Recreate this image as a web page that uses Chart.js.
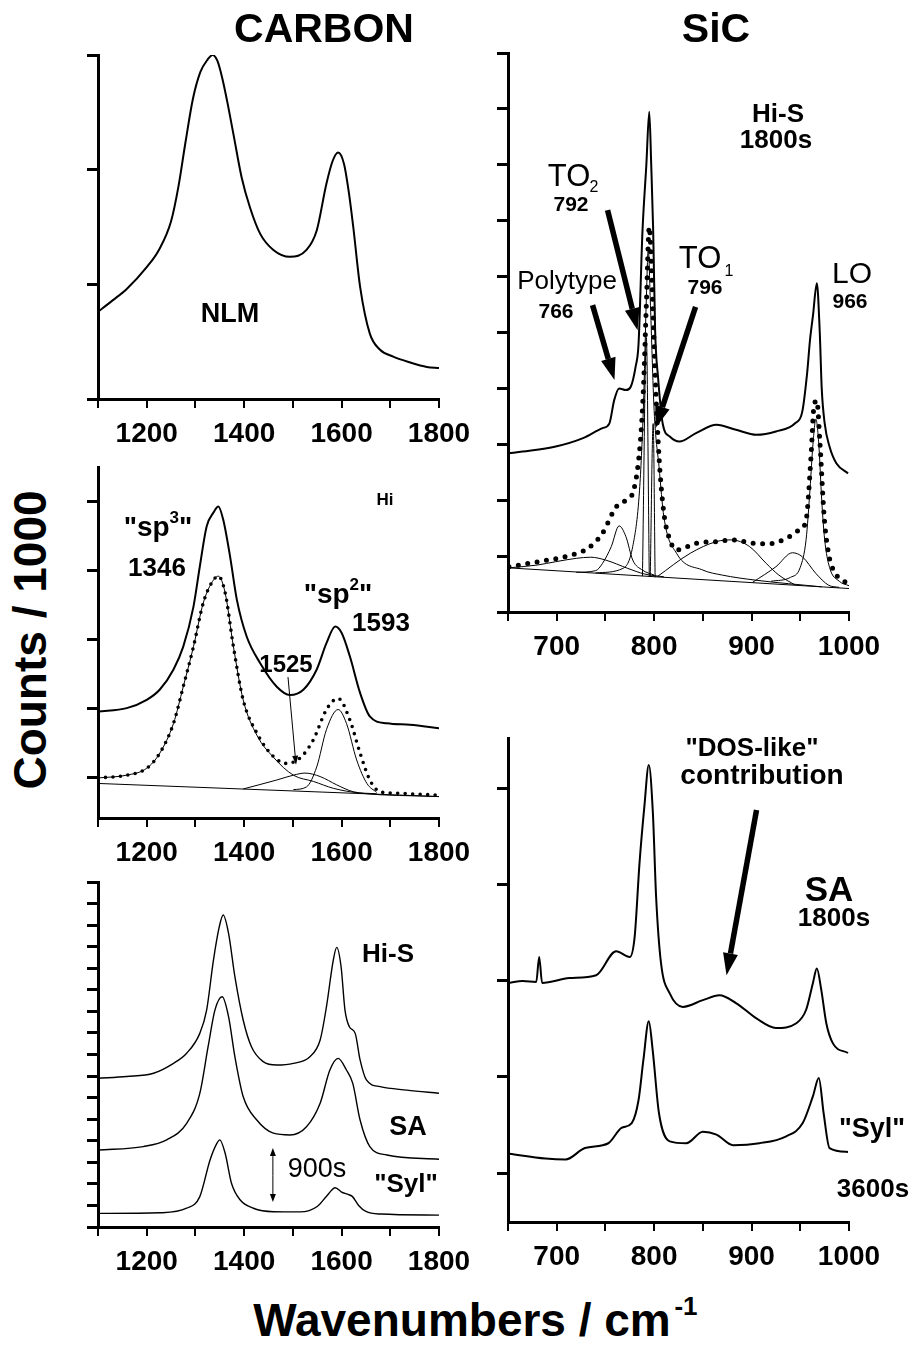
<!DOCTYPE html>
<html><head><meta charset="utf-8">
<script src="https://cdn.jsdelivr.net/npm/chart.js@4.4.1/dist/chart.umd.min.js"></script>
<style>
body{margin:0;background:#fff;width:916px;height:1347px;position:relative;overflow:hidden;font-family:"Liberation Sans",Arial,sans-serif;color:#000}
canvas{position:absolute}
.t{position:absolute;transform:translate(-50%,-50%);white-space:nowrap;line-height:1;font-weight:bold}
.n{font-weight:normal}
</style></head><body>
<canvas id="p1"></canvas><canvas id="p2"></canvas><canvas id="p3"></canvas><canvas id="p4"></canvas><canvas id="p5"></canvas>

<div class="t" style="left:324px;top:28px;font-size:41px">CARBON</div>
<div class="t" style="left:716px;top:28px;font-size:41px">SiC</div>
<div class="t" style="left:30px;top:640px;font-size:46px;transform:translate(-50%,-50%) rotate(-90deg)">Counts / 1000</div>
<div class="t" style="left:462px;top:1320px;font-size:46px">Wavenumbers / cm</div>
<div class="t" style="left:686px;top:1306px;font-size:26px">-1</div>

<div class="t" style="left:230px;top:313px;font-size:27px">NLM</div>

<div class="t" style="left:385px;top:499px;font-size:17px">Hi</div>
<div class="t" style="left:158px;top:527px;font-size:28px">"sp<span style="font-size:17px;position:relative;top:-13px">3</span>"</div>
<div class="t" style="left:157px;top:567px;font-size:26px">1346</div>
<div class="t" style="left:338px;top:594px;font-size:28px">"sp<span style="font-size:17px;position:relative;top:-13px">2</span>"</div>
<div class="t" style="left:381px;top:622px;font-size:26px">1593</div>
<div class="t" style="left:286px;top:664px;font-size:24px">1525</div>

<div class="t" style="left:388px;top:953px;font-size:26px">Hi-S</div>
<div class="t" style="left:408px;top:1126px;font-size:27px">SA</div>
<div class="t n" style="left:317px;top:1168px;font-size:27px">900s</div>
<div class="t" style="left:406px;top:1183px;font-size:26px">"Syl"</div>

<div class="t" style="left:778px;top:113px;font-size:26px">Hi-S</div>
<div class="t" style="left:776px;top:139px;font-size:26px">1800s</div>
<div class="t n" style="left:569px;top:175px;font-size:31px">TO</div>
<div class="t n" style="left:594px;top:187px;font-size:16px">2</div>
<div class="t" style="left:571px;top:203px;font-size:21px">792</div>
<div class="t n" style="left:567px;top:280px;font-size:26px">Polytype</div>
<div class="t" style="left:556px;top:310px;font-size:21px">766</div>
<div class="t n" style="left:700px;top:257px;font-size:31px">TO</div>
<div class="t n" style="left:729px;top:271px;font-size:16px">1</div>
<div class="t" style="left:705px;top:286px;font-size:21px">796</div>
<div class="t n" style="left:852px;top:273px;font-size:30px">LO</div>
<div class="t" style="left:850px;top:300px;font-size:21px">966</div>

<div class="t" style="left:752px;top:747px;font-size:26px">"DOS-like"</div>
<div class="t" style="left:762px;top:775px;font-size:28px">contribution</div>
<div class="t" style="left:829px;top:888px;font-size:35px">SA</div>
<div class="t" style="left:834px;top:917px;font-size:26px">1800s</div>
<div class="t" style="left:872px;top:1128px;font-size:27px">"Syl"</div>
<div class="t" style="left:873px;top:1188px;font-size:26px">3600s</div>

<script>
// ---------- axes ----------
const carbonXTicks = [1100,1200,1300,1400,1500,1600,1700,1800];
const carbonXLabels = [1200,1400,1600,1800];
const sicXTicks = [650,700,750,800,850,900,950,1000];
const sicXLabels = [700,800,900,1000];
const nlmYTicks = [0,1,2,3];
const hiYTicks = [0,1,2,3,4];
const carbon3YTicks = [0,1,2,3,4,5,6,7,8,9,10,11,12,13,14,15,16];
const sicHiYTicks = [0,1,2,3,4,5,6,7,8,9,10];
const sicSaYTicks = [0,1,2,3,4];

// ---------- CARBON: NLM ----------
const nlmSpectrum = [[1100,0.76],[1130,0.86],[1159,0.96],[1200,1.15],[1225,1.30],[1250,1.55],[1265,1.85],[1280,2.25],[1295,2.62],[1310,2.85],[1325,2.96],[1335,3.0],[1345,2.95],[1355,2.80],[1365,2.60],[1378,2.31],[1395,1.93],[1412,1.67],[1433,1.44],[1460,1.30],[1494,1.24],[1528,1.30],[1549,1.47],[1569,1.88],[1582,2.08],[1593,2.15],[1605,2.05],[1615,1.80],[1624,1.50],[1638,0.98],[1658,0.57],[1679,0.43],[1706,0.37],[1740,0.32],[1775,0.28],[1800,0.27]];

// ---------- CARBON: Hi ----------
const hiSpectrum = [[1100,0.96],[1159,1.01],[1200,1.13],[1227,1.28],[1255,1.57],[1275,1.90],[1296,2.48],[1309,3.06],[1323,3.64],[1337,3.84],[1347,3.93],[1357,3.74],[1371,3.21],[1385,2.58],[1405,2.05],[1433,1.66],[1467,1.32],[1494,1.20],[1522,1.28],[1549,1.57],[1569,1.95],[1587,2.19],[1600,2.10],[1617,1.76],[1638,1.23],[1658,0.89],[1693,0.79],[1740,0.77],[1800,0.72]];
const hiFit = [[1100,0.00],[1159,0.04],[1200,0.14],[1227,0.36],[1255,0.79],[1275,1.32],[1296,1.90],[1316,2.53],[1333,2.82],[1347,2.92],[1361,2.68],[1378,1.90],[1398,1.13],[1426,0.65],[1460,0.31],[1487,0.21],[1515,0.29],[1542,0.55],[1569,0.99],[1593,1.15],[1617,0.84],[1638,0.36],[1658,-0.03],[1679,-0.20],[1706,-0.22],[1800,-0.25]];
const hiBaseline = [[1100,-0.08],[1800,-0.27]];
const hiBand1346 = [[1100,0.00],[1159,0.04],[1200,0.14],[1227,0.36],[1255,0.79],[1275,1.32],[1296,1.90],[1316,2.53],[1333,2.82],[1347,2.92],[1361,2.68],[1378,1.90],[1398,1.13],[1426,0.62],[1460,0.30],[1501,0.04],[1542,-0.05],[1583,-0.15],[1638,-0.22],[1800,-0.27]];
const hiBand1525 = [[1398,-0.16],[1467,-0.03],[1501,0.04],[1525,0.07],[1556,0.02],[1590,-0.10],[1624,-0.20],[1672,-0.23]];
const hiBand1593 = [[1501,-0.17],[1528,-0.13],[1549,0.16],[1569,0.70],[1593,0.99],[1610,0.79],[1631,0.26],[1652,-0.08],[1672,-0.21]];
const hiArrows = [{from:[1490,1.46],to:[1506.5,0.19]}];

// ---------- CARBON: Hi-S / SA / Syl ----------
const carbonHiS = [[1100,6.90],[1159,6.98],[1214,7.13],[1255,7.59],[1282,8.06],[1309,8.98],[1323,10.06],[1337,12.38],[1349,13.93],[1357,14.47],[1368,13.62],[1381,11.61],[1398,9.60],[1415,8.36],[1439,7.67],[1467,7.51],[1501,7.59],[1535,7.90],[1556,8.67],[1569,10.22],[1583,12.38],[1590,12.97],[1599,12.07],[1607,10.06],[1616,9.29],[1628,8.98],[1638,7.75],[1651,6.82],[1679,6.51],[1734,6.35],[1800,6.20]];
const carbonSA = [[1100,3.57],[1193,3.73],[1241,4.04],[1282,4.81],[1309,6.20],[1326,8.36],[1340,10.06],[1355,10.68],[1368,9.76],[1381,7.90],[1398,6.05],[1426,4.96],[1460,4.35],[1494,4.27],[1528,4.65],[1556,5.74],[1576,7.28],[1593,7.82],[1610,7.28],[1623,6.66],[1638,4.96],[1658,3.73],[1693,3.34],[1800,3.14]];
const carbonSyl = [[1100,0.63],[1227,0.66],[1282,0.87],[1309,1.41],[1330,3.11],[1344,3.88],[1350,4.04],[1361,3.42],[1374,2.03],[1392,1.25],[1419,0.87],[1460,0.71],[1515,0.70],[1550,0.95],[1570,1.45],[1587,1.82],[1600,1.62],[1612,1.52],[1622,1.42],[1635,1.00],[1650,0.72],[1680,0.60],[1800,0.55]];
const carbon3Arrows = [{from:[1459,2.4],to:[1459,3.66]},{from:[1459,2.4],to:[1459,1.16]}];

// ---------- SiC: Hi-S ----------
const sicHiS = [[651,2.84],[665,2.87],[699,2.96],[727,3.11],[747,3.29],[754,3.37],[759,3.79],[764,4.00],[771,3.97],[776,4.03],[781,4.39],[784,4.80],[788,6.80],[792,8.00],[795,8.95],[797,8.00],[799,6.83],[801,5.04],[804,4.20],[809,3.35],[816,3.14],[826,3.05],[843,3.20],[864,3.35],[884,3.26],[905,3.17],[925,3.23],[945,3.38],[952,3.58],[957,4.27],[960,4.87],[963,5.30],[967,5.88],[970,5.00],[972,4.00],[975,3.38],[980,2.96],[987,2.66],[999,2.48]];
const sicHiFit = [[651,0.81],[681,0.90],[715,1.02],[732,1.14],[747,1.41],[761,1.88],[771,2.00],[779,2.18],[786,3.08],[789,4.00],[792,5.50],[795,6.89],[798,5.80],[801,4.27],[805,2.78],[810,1.77],[816,1.30],[823,1.11],[843,1.23],[864,1.26],[881,1.29],[901,1.23],[918,1.22],[939,1.35],[949,1.47],[956,1.65],[961,2.78],[964,3.67],[967,3.78],[970,3.08],[974.5,1.71],[979,1.05],[984,0.75],[993,0.57],[998,0.52]];
const sicHiBaseline = [[650,0.79],[1000,0.42]];
const sicBand735 = [[651,0.79],[680,0.84],[699,0.90],[720,0.96],[735,0.98],[750,0.93],[773,0.78],[790,0.68],[810,0.63]];
const sicBand766 = [[720,0.71],[740,0.74],[747,0.87],[756,1.17],[764,1.54],[771,1.35],[778,0.93],[788,0.75],[800,0.66]];
const sicBand794 = [[740,0.70],[768,0.78],[778,1.17],[785,2.18],[789,3.67],[792,5.60],[794,6.50],[796,5.60],[800,3.60],[805,2.60],[810,1.70],[823,1.05],[850,0.75],[870,0.66],[904,0.57],[972,0.45]];
const sicBand792 = [[788,0.64],[792,4.91],[795,0.63]];
const sicBand799 = [[796,0.63],[799,3.37],[801,0.62]];
const sicBand878 = [[803,0.63],[837,1.05],[864,1.26],[879,1.29],[898,1.17],[915,0.87],[928,0.66],[945,0.48]];
const sicBand945 = [[901,0.53],[925,0.81],[942,1.06],[952,0.99],[966,0.69],[979,0.48],[990,0.44]];
const sicBand966 = [[920,0.55],[940,0.62],[950,0.80],[956,1.30],[960,2.20],[963,3.00],[966,3.45],[969,3.00],[972,2.00],[975,1.30],[980,0.80],[990,0.55],[1000,0.47]];
const sicHiArrows = [{from:[736.8,5.49],to:[759.3,4.15]},{from:[752.2,7.19],to:[783.0,5.04]},{from:[842.5,5.46],to:[801.4,3.29]}];

// ---------- SiC: SA / Syl ----------
const sicSA = [[651.5,1.98],[665,2.00],[679,1.99],[682,2.25],[685,1.98],[713,2.03],[740.5,2.06],[761,2.31],[775,2.25],[780,2.46],[785,3.23],[790,3.82],[794.5,4.25],[798.7,3.75],[802,2.88],[807,2.19],[816,1.87],[829.5,1.73],[850,1.80],[867,1.85],[884,1.77],[905,1.61],[925,1.51],[946,1.56],[956,1.70],[963,1.98],[967,2.13],[971.5,1.91],[976.7,1.56],[983.5,1.35],[999,1.25]];
const sicSyl = [[651.5,0.20],[688.5,0.15],[709,0.14],[729,0.26],[753,0.31],[766.5,0.47],[777,0.52],[784,0.76],[789,1.18],[794.5,1.58],[798.5,1.28],[805,0.62],[816,0.33],[833,0.31],[850,0.43],[864,0.40],[881,0.29],[908,0.31],[935,0.38],[952.5,0.52],[963,0.80],[969,0.99],[974,0.62],[980,0.26],[999,0.22]];
const sicSaArrows = [{from:[905.1,3.78],to:[874.3,2.06]}];

// ---------- drawing helpers ----------
function drawArrow(ctx,x0,y0,x1,y1,w,hl,hw){
  const a=Math.atan2(y1-y0,x1-x0), bx=x1-hl*Math.cos(a), by=y1-hl*Math.sin(a);
  ctx.save();ctx.strokeStyle='#000';ctx.fillStyle='#000';ctx.lineWidth=w;ctx.lineCap='butt';
  ctx.beginPath();ctx.moveTo(x0,y0);ctx.lineTo(bx,by);ctx.stroke();
  ctx.beginPath();ctx.moveTo(x1,y1);
  ctx.lineTo(bx+hw/2*Math.sin(a),by-hw/2*Math.cos(a));
  ctx.lineTo(bx-hw/2*Math.sin(a),by+hw/2*Math.cos(a));
  ctx.closePath();ctx.fill();ctx.restore();
}
function arrowPlugin(arrows,style){return {id:'arrows',afterDatasetsDraw(chart){
  const ctx=chart.ctx,xs=chart.scales.x,ys=chart.scales.y;
  arrows.forEach(a=>drawArrow(ctx,xs.getPixelForValue(a.from[0]),ys.getPixelForValue(a.from[1]),
    xs.getPixelForValue(a.to[0]),ys.getPixelForValue(a.to[1]),style.w,style.hl,style.hw));
}};}

const EXP = d=>({data:d,borderColor:'#000',borderWidth:2,pointRadius:0,cubicInterpolationMode:'monotone'});
const THIN = d=>({data:d,borderColor:'#000',borderWidth:1,pointRadius:0,cubicInterpolationMode:'monotone'});
const DOTS = (d,w,g)=>({data:d,borderColor:'#000',borderWidth:w,borderDash:[0,g],borderCapStyle:'round',pointRadius:0,cubicInterpolationMode:'monotone'});

function makeChart(id,box,xCfg,yCfg,datasets,arrows,aStyle){
  const cv=document.getElementById(id);
  const PADT=10,YW=14,XH=62,PADR=40;
  const w=YW+(box.R-box.L)+PADR,h=PADT+(box.B-box.T)+XH;
  cv.style.left=(box.L-YW)+'px';cv.style.top=(box.T-PADT)+'px';
  cv.width=w;cv.height=h;cv.style.width=w+'px';cv.style.height=h+'px';
  new Chart(cv,{type:'line',data:{datasets},
    options:{responsive:false,animation:false,devicePixelRatio:1,
      layout:{padding:{left:0,top:PADT,right:PADR,bottom:0}},
      plugins:{legend:{display:false},tooltip:{enabled:false}},
      scales:{
        x:{type:'linear',min:xCfg.min,max:xCfg.max,
          afterBuildTicks:s=>{s.ticks=xCfg.ticks.map(v=>({value:v}));},
          afterFit:s=>{s.height=XH;s.paddingLeft=0;s.paddingRight=0;},
          ticks:{autoSkip:false,maxRotation:0,minRotation:0,padding:9,color:'#000',
            font:{family:'Liberation Sans',size:28,weight:'bold'},
            callback:v=>xCfg.labels.includes(v)?String(v):''},
          grid:{drawOnChartArea:false,drawTicks:true,tickLength:9,lineWidth:2,color:'#000'},
          border:{display:true,width:3,color:'#000'}},
        y:{type:'linear',min:yCfg.min,max:yCfg.max,
          afterBuildTicks:s=>{s.ticks=yCfg.ticks.map(v=>({value:v}));},
          afterFit:s=>{s.width=YW;s.paddingTop=0;s.paddingBottom=0;},
          ticks:{display:false},
          grid:{drawOnChartArea:false,drawTicks:true,tickLength:11,lineWidth:3,color:'#000'},
          border:{display:true,width:3,color:'#000'}}
      }},
    plugins:[arrowPlugin(arrows||[],aStyle||{w:1,hl:8,hw:6})]});
}

const carbonX={min:1100,max:1800,ticks:carbonXTicks,labels:carbonXLabels};
const sicX={min:650,max:1000,ticks:sicXTicks,labels:sicXLabels};

makeChart('p1',{L:98,R:439,T:55,B:399},carbonX,{min:0,max:3,ticks:nlmYTicks},[EXP(nlmSpectrum)]);
makeChart('p2',{L:98,R:439,T:467,B:818},carbonX,{min:-0.58,max:4.5,ticks:hiYTicks},
  [EXP(hiSpectrum),DOTS(hiFit,3.6,7.5),THIN(hiBaseline),THIN(hiBand1346),THIN(hiBand1525),THIN(hiBand1593)],
  hiArrows,{w:1,hl:9,hw:6});
makeChart('p3',{L:98,R:439,T:882,B:1227},carbonX,{min:0,max:16,ticks:carbon3YTicks},
  [THIN(carbonHiS),THIN(carbonSA),THIN(carbonSyl)].map(d=>Object.assign(d,{borderWidth:1.4})),
  carbon3Arrows,{w:1,hl:8,hw:6});
makeChart('p4',{L:508,R:849,T:53,B:612},sicX,{min:0,max:10,ticks:sicHiYTicks},
  [EXP(sicHiS),DOTS(sicHiFit,5,9.5),THIN(sicHiBaseline),THIN(sicBand735),THIN(sicBand766),THIN(sicBand794),
   THIN(sicBand792),THIN(sicBand799),THIN(sicBand878),THIN(sicBand945),THIN(sicBand966)],
  sicHiArrows,{w:5.5,hl:22,hw:15});
makeChart('p5',{L:508,R:849,T:738,B:1222},sicX,{min:-0.51,max:4.53,ticks:sicSaYTicks},
  [EXP(sicSA),EXP(sicSyl)],sicSaArrows,{w:5.5,hl:22,hw:15});
</script>
</body></html>
